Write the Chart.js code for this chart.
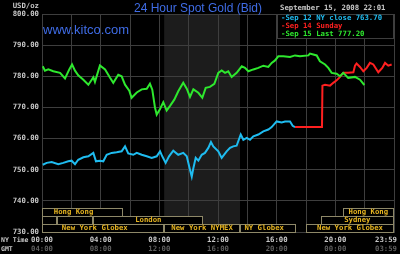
<!DOCTYPE html>
<html>
<head>
<meta charset="utf-8">
<script src="https://cdn.jsdelivr.net/npm/chart.js@4.4.1/dist/chart.umd.min.js"></script>
<style>
  html, body { margin: 0; padding: 0; background: #000; }
</style>
</head>
<body>
<canvas id="goldChart" width="400" height="254"></canvas>
<script>
// ── Series: hours (NY time) and bid prices ──
const closeHours = [0.05, 0.32, 0.66, 1.11, 1.45, 1.79, 2.02, 2.25, 2.47, 2.82, 3.16, 3.5, 3.68, 3.95, 4.18, 4.41, 4.75, 5.09, 5.43, 5.66, 5.88, 6.22, 6.46, 6.8, 7.14, 7.48, 7.82, 8.05, 8.2, 8.43, 8.66, 8.95, 9.29, 9.63, 9.87, 10.09, 10.21, 10.32, 10.48, 10.66, 10.89, 11.11, 11.34, 11.52, 11.68, 12.02, 12.25, 12.59, 12.82, 13.04, 13.27, 13.55, 13.73, 13.96, 14.18, 14.41, 14.75, 15.09, 15.43, 15.66, 16.0, 16.34, 16.57, 16.91, 17.09, 17.25];
const closePrices = [751.6, 752.2, 752.5, 751.8, 752.2, 752.7, 752.9, 751.8, 753.2, 754.0, 754.3, 755.4, 752.7, 752.9, 752.7, 754.8, 755.4, 755.6, 755.9, 757.5, 755.2, 754.8, 755.4, 754.8, 754.3, 753.8, 754.3, 755.9, 754.3, 752.2, 754.3, 756.1, 754.8, 755.4, 754.3, 750.0, 747.8, 750.5, 753.8, 752.9, 754.8, 755.4, 757.0, 758.9, 757.5, 755.9, 753.8, 755.9, 757.0, 757.5, 757.7, 761.3, 759.6, 760.2, 759.6, 760.7, 761.3, 762.3, 762.9, 763.7, 765.5, 765.2, 765.5, 765.5, 764.1, 763.7];

const sundayHours = [17.25, 19.09, 19.12, 19.3, 19.64, 19.86, 20.09, 20.32, 20.54, 20.88, 21.23, 21.34, 21.45, 21.68, 21.91, 22.14, 22.36, 22.59, 22.93, 23.2, 23.39, 23.61, 23.84];
const sundayPrices = [763.7, 763.7, 777.0, 777.3, 777.0, 777.9, 778.7, 779.8, 781.1, 781.1, 781.3, 783.4, 784.1, 783.0, 781.6, 782.7, 784.3, 783.8, 781.3, 782.7, 784.3, 783.4, 783.8];

const lastHours = [0.05, 0.2, 0.43, 0.77, 1.23, 1.57, 1.86, 2.05, 2.25, 2.47, 2.82, 3.16, 3.39, 3.5, 3.61, 3.95, 4.3, 4.64, 4.86, 5.2, 5.43, 5.66, 5.95, 6.11, 6.46, 6.8, 7.14, 7.36, 7.52, 7.7, 7.82, 8.05, 8.27, 8.5, 8.73, 9.02, 9.29, 9.63, 9.87, 10.09, 10.32, 10.66, 10.93, 11.16, 11.45, 11.75, 12.02, 12.25, 12.48, 12.7, 12.93, 13.27, 13.62, 13.84, 14.07, 14.41, 14.75, 15.09, 15.43, 15.66, 15.89, 16.11, 16.45, 16.91, 17.25, 17.59, 18.16, 18.27, 18.73, 18.95, 19.3, 19.52, 19.75, 20.09, 20.32, 20.54, 20.88, 21.34, 21.68, 21.98];
const lastPrices = [783.2, 781.8, 782.2, 781.6, 781.1, 779.3, 782.2, 783.8, 781.8, 780.3, 778.9, 777.3, 778.9, 779.7, 778.2, 783.5, 782.2, 779.5, 777.9, 780.5, 780.0, 777.3, 775.4, 773.1, 774.8, 775.8, 776.0, 777.6, 775.7, 770.0, 767.7, 769.5, 771.7, 769.0, 770.5, 772.5, 775.2, 777.9, 776.0, 773.4, 775.8, 774.7, 773.1, 776.3, 776.6, 777.6, 781.1, 781.9, 781.1, 781.6, 779.8, 781.1, 783.2, 782.7, 781.6, 782.2, 782.7, 783.4, 783.0, 784.3, 785.1, 786.4, 786.4, 786.2, 786.7, 786.4, 786.7, 787.3, 786.7, 784.8, 783.8, 782.7, 781.1, 780.8, 780.0, 781.1, 779.5, 779.8, 778.9, 777.2];

// ── Axes ──
const priceTicks = [730, 740, 750, 760, 770, 780, 790, 800];
const hourTicks = [0, 2, 4, 6, 8, 10, 12, 14, 16, 18, 20, 22, 24];
const nyTimeLabels = ["00:00", "", "04:00", "", "08:00", "", "12:00", "", "16:00", "", "20:00", "", "23:59"];
const gmtLabels = ["04:00", "", "08:00", "", "12:00", "", "16:00", "", "20:00", "", "00:00", "", "03:59"];

// ── Legend ──
const legendTexts = ["-Sep 12 NY close 763.70", "-Sep 14 Sunday", "-Sep 15 Last 777.20"];

// ── Market sessions (hours, NY time) ──
const nymexStart = 8.33;
const nymexEnd = 13.5;
const sessions = [
  { name: "Hong Kong", from: 0, to: 5.5, row: 0, at: 2.15 },
  { name: "Hong Kong", from: 20.5, to: 24, row: 0 },
  { name: "", from: 0, to: 1, row: 1 },
  { name: "", from: 1, to: 3.5, row: 1 },
  { name: "London", from: 3.5, to: 11, row: 1 },
  { name: "Sydney", from: 19, to: 24, row: 1 },
  { name: "New York Globex", from: 0, to: 8.33, row: 2, at: 3.6 },
  { name: "New York NYMEX", from: 8.33, to: 13.5, row: 2 },
  { name: "NY Globex", from: 13.5, to: 17.35, row: 2, at: 15.15 },
  { name: "New York Globex", from: 18, to: 24, row: 2 },
];

const GRID = "#3e3e3e";
const PIX = "bold 7.3px 'DejaVu Sans Mono'";
const COLORS = ["#1fbcf0", "#ff2020", "#2ee82e"];

const toPoints = (hours, prices) => hours.map((h, i) => ({ x: h, y: prices[i] }));

const decor = {
  id: "decor",
  beforeDraw(chart) {
    const { ctx, chartArea: a, scales: { x } } = chart;
    ctx.save();
    ctx.fillStyle = "#000";
    ctx.fillRect(0, 0, chart.width, chart.height);
    const s = x.getPixelForValue(nymexStart);
    const e = x.getPixelForValue(nymexEnd);
    ctx.fillStyle = "#1c1c1c";
    ctx.fillRect(s, a.top, e - s, a.bottom - a.top);
    ctx.restore();
  },
  afterDraw(chart) {
    const { ctx, chartArea: a, scales: { x } } = chart;
    ctx.save();

    // session boxes
    ctx.font = PIX;
    ctx.textBaseline = "middle";
    ctx.textAlign = "center";
    sessions.forEach((s) => {
      const x0 = Math.round(x.getPixelForValue(s.from));
      const x1 = Math.round(x.getPixelForValue(s.to));
      const y0 = a.bottom - (3 - s.row) * 8;
      ctx.fillStyle = "#000";
      ctx.fillRect(x0, y0, x1 - x0, 8);
      ctx.strokeStyle = "#8e8868";
      ctx.lineWidth = 1;
      ctx.strokeRect(x0 + 0.5, y0 + 0.5, x1 - x0 - 1, 8);
      if (s.name) {
        ctx.fillStyle = "#e6b420";
        const cx = x.getPixelForValue(s.at !== undefined ? s.at : (s.from + s.to) / 2);
        ctx.fillText(s.name, cx, y0 + 4.5);
      }
    });

    // legend box
    const lx = Math.round(x.getPixelForValue(16));
    ctx.fillStyle = "#000";
    ctx.fillRect(lx, a.top, a.right - lx, 24);
    ctx.strokeStyle = GRID;
    ctx.strokeRect(lx + 0.5, a.top + 0.5, a.right - lx - 1, 24);
    ctx.textAlign = "left";
    legendTexts.forEach((t, i) => {
      ctx.fillStyle = COLORS[i];
      ctx.fillText(t, lx + 4, a.top + 4.5 + i * 8);
    });

    // x labels
    hourTicks.forEach((h, i) => {
      const px = x.getPixelForValue(h);
      ctx.textAlign = "center";
      const w = ctx.measureText(nyTimeLabels[i]).width;
      const cx = Math.min(px, chart.width - 3 - w / 2);
      ctx.fillStyle = "#c8c8c8";
      ctx.fillText(nyTimeLabels[i], cx, 240.5);
      ctx.fillStyle = "#5e5e5e";
      ctx.fillText(gmtLabels[i], cx, 249.5);
    });
    ctx.textAlign = "right";
    ctx.fillStyle = "#c8c8c8";
    ctx.fillText("USD/oz", 39, 6.5);
    ctx.textAlign = "left";
    ctx.fillText("September 15, 2008 22:01", 280, 8);
    ctx.font = "bold 6.5px 'DejaVu Sans Mono'";
    ctx.fillText("NY Time", 1, 240.5);
    ctx.fillText("GMT", 1, 249.5);

    // title + site
    ctx.fillStyle = "#3f6ce6";
    ctx.textBaseline = "alphabetic";
    ctx.textAlign = "center";
    ctx.font = "12px 'Liberation Sans'";
    ctx.fillText("24 Hour Spot Gold (Bid)", 198, 12);
    ctx.textAlign = "left";
    ctx.font = "13px 'Liberation Sans'";
    ctx.fillText("www.kitco.com", 43, 34);
    ctx.restore();
  },
};

new Chart(document.getElementById("goldChart"), {
  type: "line",
  data: {
    datasets: [
      { data: toPoints(lastHours, lastPrices), borderColor: COLORS[2] },
      { data: toPoints(sundayHours, sundayPrices), borderColor: COLORS[1] },
      { data: toPoints(closeHours, closePrices), borderColor: COLORS[0] },
    ].map((d) => ({ ...d, borderWidth: 2, pointRadius: 0, tension: 0, fill: false })),
  },
  options: {
    responsive: false,
    devicePixelRatio: 1,
    animation: false,
    layout: { padding: { top: 14, right: 6, left: 0, bottom: 0 } },
    plugins: { legend: { display: false }, tooltip: { enabled: false } },
    scales: {
      x: {
        type: "linear",
        min: 0,
        max: 24,
        afterBuildTicks: (s) => { s.ticks = hourTicks.map((v) => ({ value: v })); },
        afterFit: (s) => { s.height = 22; },
        ticks: { display: false },
        grid: { color: GRID, drawTicks: false },
        border: { color: GRID },
      },
      y: {
        min: 730,
        max: 800,
        afterBuildTicks: (s) => { s.ticks = priceTicks.map((v) => ({ value: v })); },
        afterFit: (s) => { s.width = 42; },
        ticks: {
          color: "#c8c8c8",
          font: { family: "'DejaVu Sans Mono'", size: 7.3, weight: "bold" },
          padding: 3,
          callback: (v) => Number(v).toFixed(2),
        },
        grid: { color: GRID, drawTicks: false },
        border: { color: GRID },
      },
    },
  },
  plugins: [decor],
});
</script>
</body>
</html>
